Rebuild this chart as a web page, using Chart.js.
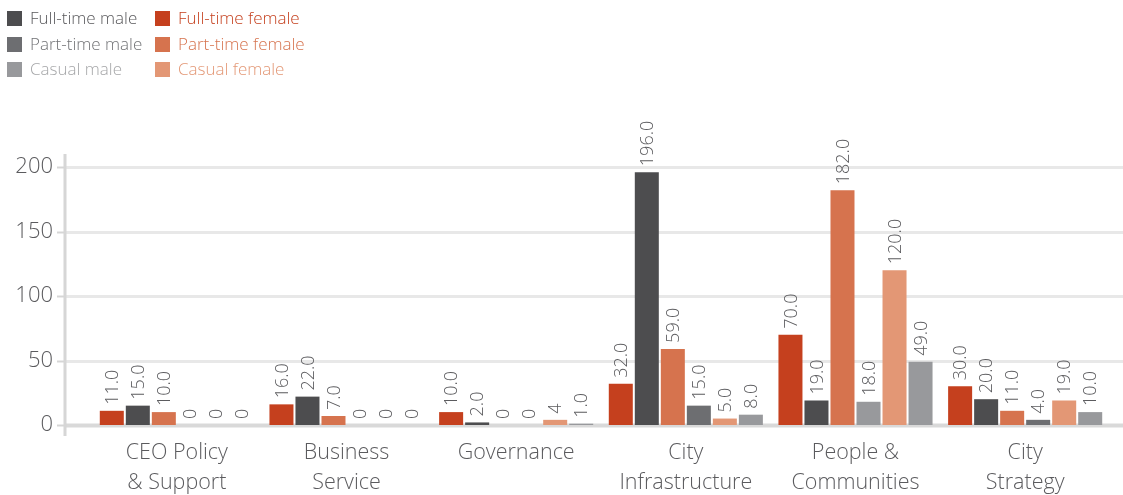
<!DOCTYPE html>
<html>
<head>
<meta charset="utf-8">
<script src="https://cdn.jsdelivr.net/npm/chart.js@4.4.1/dist/chart.umd.min.js"></script>
<style>
  html, body { margin: 0; padding: 0; background: #fff; }
  #wrap { position: relative; width: 1123px; height: 495px; }
  #legend { position: absolute; left: 7px; top: 10px; font-family: 'Open Sans', sans-serif; font-weight: 300; font-size: 17px; }
  .item { position: absolute; white-space: nowrap; height: 18px; line-height: 18px; }
  .item i { position: absolute; left: 0; top: 1px; width: 15px; height: 15px; }
  .item span { position: absolute; left: 23px; top: -1px; }
</style>
</head>
<body>
<div id="wrap">
  <canvas id="staffChart" width="1123" height="495"></canvas>
  <div id="legend"></div>
</div>
<script>
// headcount by division, employment type and gender
const divisions = [
  ['CEO Policy', '& Support'],
  ['Business', 'Service'],
  ['Governance'],
  ['City', 'Infrastructure'],
  ['People &', 'Communities'],
  ['City', 'Strategy']
];

// values kept as written on the bars
const fullTimeFemale = ['11.0', '16.0', '10.0', '32.0', '70.0', '30.0'];
const fullTimeMale = ['15.0', '22.0', '2.0', '196.0', '19.0', '20.0'];
const partTimeFemale = ['10.0', '7.0', '0', '59.0', '182.0', '11.0'];
const partTimeMale = ['0', '0', '0', '15.0', '18.0', '4.0'];
const casualFemale = ['0', '0', '4', '5.0', '120.0', '19.0'];
const casualMale = ['0', '0', '1.0', '8.0', '49.0', '10.0'];

const yTicks = [0, 50, 100, 150, 200];

const FONT = "'Open Sans', sans-serif";
const TEXT = '#5b5b5e';

const C = {
  ftMale: '#4d4d4f', ptMale: '#6d6e71', casMale: '#98999c',
  ftFemale: '#c5401e', ptFemale: '#d6734e', casFemale: '#e39775'
};

// legend: two columns, male on the left, female on the right
const legendItems = [
  { label: 'Full-time male', box: C.ftMale, text: '#58585b', col: 0, row: 0 },
  { label: 'Part-time male', box: C.ptMale, text: '#717275', col: 0, row: 1 },
  { label: 'Casual male', box: C.casMale, text: '#a5a6a8', col: 0, row: 2 },
  { label: 'Full-time female', box: C.ftFemale, text: C.ftFemale, col: 1, row: 0 },
  { label: 'Part-time female', box: C.ptFemale, text: C.ptFemale, col: 1, row: 1 },
  { label: 'Casual female', box: C.casFemale, text: C.casFemale, col: 1, row: 2 }
];
const legendEl = document.getElementById('legend');
legendItems.forEach(it => {
  const d = document.createElement('div');
  d.className = 'item';
  d.style.left = (it.col * 148) + 'px';
  d.style.top = (it.row * 25.5) + 'px';
  d.innerHTML = '<i style="background:' + it.box + '"></i><span style="color:' + it.text + '">' + it.label + '</span>';
  legendEl.appendChild(d);
});

// grid lines + y axis rule drawn across the full width, left of the bars
const gridPlugin = {
  id: 'gridRules',
  beforeDatasetsDraw(chart) {
    const ctx = chart.ctx;
    const y = chart.scales.y;
    const axisX = 65;
    ctx.save();
    y.ticks.forEach(t => {
      const py = Math.round(y.getPixelForValue(t.value)) + 0.5;
      ctx.strokeStyle = t.value === 0 ? '#d9d9d9' : '#e8e8e8';
      ctx.lineWidth = t.value === 0 ? 4 : 3;
      ctx.beginPath();
      ctx.moveTo(axisX, py);
      ctx.lineTo(chart.width, py);
      ctx.stroke();
      ctx.strokeStyle = '#d6d6d6';
      ctx.lineWidth = 2;
      ctx.beginPath();
      ctx.moveTo(57, py);
      ctx.lineTo(axisX, py);
      ctx.stroke();
    });
    ctx.strokeStyle = '#d6d6d6';
    ctx.lineWidth = 3;
    ctx.beginPath();
    ctx.moveTo(axisX, 154);
    ctx.lineTo(axisX, 436);
    ctx.stroke();
    ctx.restore();
  }
};

// rotated value labels above each bar
const valuePlugin = {
  id: 'barValues',
  afterDatasetsDraw(chart) {
    const ctx = chart.ctx;
    ctx.save();
    ctx.font = '300 18px ' + FONT;
    ctx.fillStyle = TEXT;
    ctx.textAlign = 'left';
    ctx.textBaseline = 'middle';
    chart.data.datasets.forEach((ds, i) => {
      chart.getDatasetMeta(i).data.forEach((bar, j) => {
        ctx.save();
        ctx.translate(bar.x, bar.y - 6);
        ctx.rotate(-Math.PI / 2);
        ctx.fillText(ds.data[j], 0, 1);
        ctx.restore();
      });
    });
    ctx.restore();
  }
};

// one light-grey bar in People & Communities part-time male
const partTimeMaleColors = [C.ptMale, C.ptMale, C.ptMale, C.ptMale, C.casMale, C.ptMale];

new Chart(document.getElementById('staffChart'), {
  type: 'bar',
  data: {
    labels: divisions,
    datasets: [
      { label: 'Full-time female', data: fullTimeFemale, backgroundColor: C.ftFemale },
      { label: 'Full-time male', data: fullTimeMale, backgroundColor: C.ftMale },
      { label: 'Part-time female', data: partTimeFemale, backgroundColor: C.ptFemale },
      { label: 'Part-time male', data: partTimeMale, backgroundColor: partTimeMaleColors },
      { label: 'Casual female', data: casualFemale, backgroundColor: C.casFemale },
      { label: 'Casual male', data: casualMale, backgroundColor: C.casMale }
    ]
  },
  options: {
    responsive: false,
    animation: false,
    categoryPercentage: 0.92,
    barPercentage: 0.923,
    layout: { padding: { top: 167, right: 13, bottom: 0, left: 0 } },
    plugins: { legend: { display: false }, tooltip: { enabled: false } },
    scales: {
      x: {
        grid: { display: false, drawTicks: false },
        border: { display: false },
        ticks: {
          color: TEXT,
          padding: 13,
          font: { family: FONT, size: 21.5, weight: '300', lineHeight: 1.4 },
          maxRotation: 0,
          autoSkip: false
        },
        afterFit(scale) { scale.height = 70; }
      },
      y: {
        min: 0,
        max: 200,
        afterBuildTicks(scale) { scale.ticks = yTicks.map(v => ({ value: v })); },
        grid: { display: false, drawTicks: false },
        border: { display: false },
        ticks: {
          color: TEXT,
          padding: 39,
          font: { family: FONT, size: 22, weight: '300' }
        },
        afterFit(scale) { scale.width = 92; }
      }
    }
  },
  plugins: [gridPlugin, valuePlugin]
});
</script>
</body>
</html>
